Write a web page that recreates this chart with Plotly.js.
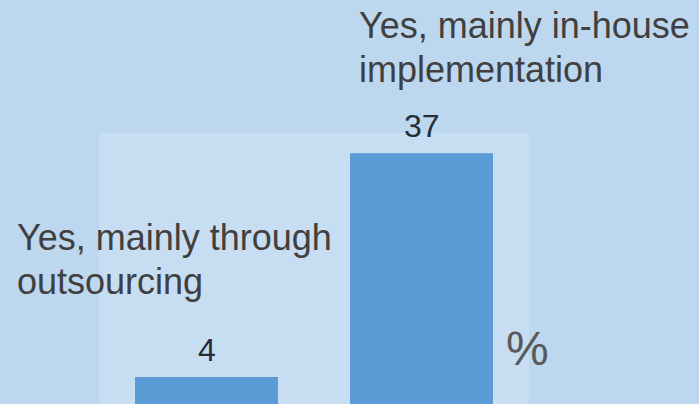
<!DOCTYPE html>
<html>
<head>
<meta charset="utf-8">
<script src="https://cdn.plot.ly/plotly-3.0.1.min.js"></script>
<style>html,body{margin:0;padding:0;background:#BDD7EE;}#chart{width:699px;height:404px;}</style>
</head>
<body>
<div id="chart"></div>
<script>
const categories = ["Yes, mainly through<br>outsourcing", "Yes, mainly in-house<br>implementation"];
const values = [4, 37];
const valueLabels = ["4", "37"];
const unitLabel = "%";

const FONT = "Liberation Sans, Arial, sans-serif";
const PLOT_H = 271;
const LINE_GAP = 44;

const catPos = [
  {x: -0.1954, y: 0.699},
  {x: 0.600, y: 1.478}
];

const annotations = [];
categories.forEach((c, i) => {
  c.split('<br>').forEach((line, k) => {
    annotations.push({
      text: line, xref: 'paper', yref: 'paper', x: catPos[i].x, y: catPos[i].y - k * LINE_GAP / PLOT_H,
      xanchor: 'left', yanchor: 'top', align: 'left', showarrow: false,
      font: {family: FONT, size: 36, color: '#404040'}
    });
  });
  annotations.push({
    text: valueLabels[i], x: c, y: values[i], xref: 'x', yref: 'y',
    xanchor: 'center', yanchor: 'bottom', yshift: 7, showarrow: false,
    font: {family: FONT, size: 32, color: '#262d38'}
  });
});
annotations.push({
  text: unitLabel, xref: 'paper', yref: 'paper', x: 0.9425, y: 0.205,
  xanchor: 'left', yanchor: 'middle', showarrow: false,
  font: {family: FONT, size: 48, color: '#595959'}
});

const data = [{
  type: 'bar', x: categories, y: values,
  marker: {color: '#5B9BD5'}, hoverinfo: 'none'
}];

const layout = {
  width: 699, height: 404,
  margin: {l: 99, r: 170, t: 133, b: 0, pad: 0},
  paper_bgcolor: '#BDD7EE', plot_bgcolor: '#C7DDF1',
  showlegend: false, bargap: 0.335,
  xaxis: {range: [-0.5, 1.5], showticklabels: false, showgrid: false, zeroline: false, showline: false, ticks: ''},
  yaxis: {range: [0, 40], showticklabels: false, showgrid: false, zeroline: false, showline: false, ticks: ''},
  annotations: annotations
};

Plotly.newPlot('chart', data, layout, {displayModeBar: false, staticPlot: true});
</script>
</body>
</html>
